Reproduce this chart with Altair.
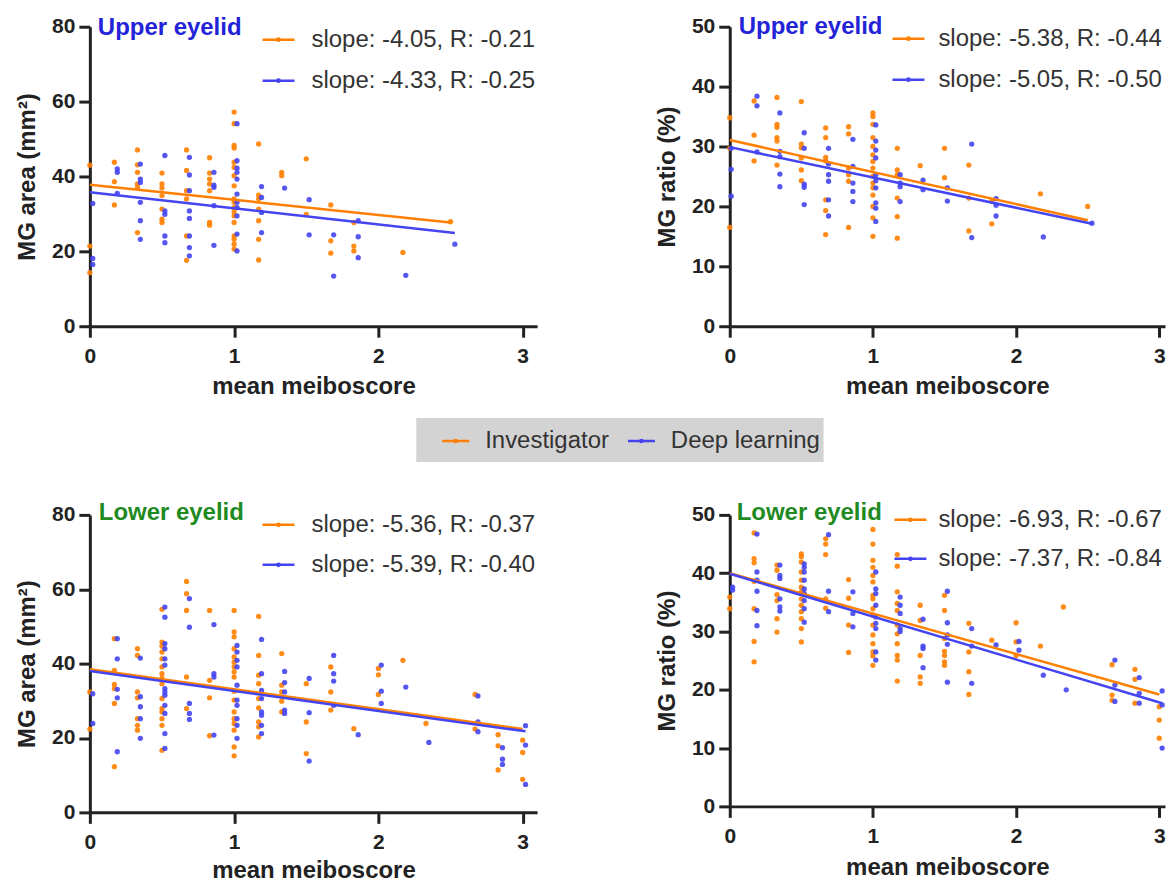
import altair as alt
import pandas as pd

ORANGE = "#FF8000"
BLUE = "#4444F0"
SERIES = ["Investigator", "Deep learning"]
FONT = "Liberation Sans"

# ---------------- data ----------------
# (mean meiboscore, [values]) groups
UP_AREA_INV = [
    (0.00, [43.0, 21.4, 14.3]),
    (0.17, [43.8, 38.6, 32.4]),
    (0.33, [47.1, 43.1, 41.1, 38.0, 37.1, 25.0]),
    (0.50, [40.9, 38.0, 36.9, 34.9, 31.3, 28.6, 27.7]),
    (0.67, [47.1, 41.6, 36.2, 34.0, 24.1, 17.6]),
    (0.83, [45.0, 40.9, 39.3, 38.0, 36.2, 27.7, 27.0]),
    (1.00, [57.2, 54.1, 48.3, 47.6, 43.8, 42.4, 40.2, 37.5, 34.0, 33.1, 31.7,
            30.6, 29.5, 27.7, 24.1, 23.2, 21.9, 20.6]),
    (1.17, [48.7, 35.0, 34.0, 31.3, 28.2, 23.2, 17.7]),
    (1.33, [41.1, 40.2]),
    (1.50, [44.7, 29.9]),
    (1.67, [32.4, 22.8, 19.5]),
    (1.83, [27.7, 21.4, 20.1]),
    (2.17, [19.7]),
    (2.50, [27.9]),
]
UP_AREA_DL = [
    (0.02, [32.8, 18.1, 16.5]),
    (0.19, [42.0, 41.1, 35.5]),
    (0.35, [43.3, 39.3, 38.4, 33.1, 28.2, 23.2]),
    (0.52, [45.6, 30.8, 29.9, 24.1, 22.3]),
    (0.69, [45.1, 40.4, 36.2, 30.8, 28.8, 24.1, 21.0, 18.8]),
    (0.86, [41.1, 37.7, 37.1, 32.2, 21.6]),
    (1.02, [54.1, 44.2, 42.2, 41.1, 39.3, 35.3, 33.1, 31.7, 29.5, 24.6, 20.1]),
    (1.19, [37.3, 34.4, 30.4, 25.0]),
    (1.35, [36.9]),
    (1.52, [33.8, 24.4]),
    (1.69, [24.4, 13.4]),
    (1.86, [28.2, 23.9, 18.3]),
    (2.19, [13.6]),
    (2.53, [21.9]),
]
UP_RATIO_INV = [
    (0.00, [34.8, 29.7, 16.5]),
    (0.17, [37.6, 31.9, 27.6]),
    (0.33, [38.2, 33.7, 33.2, 31.5, 30.9, 26.9]),
    (0.50, [37.5, 30.4, 29.8, 28.1, 26.1, 24.3]),
    (0.67, [33.1, 31.5, 28.2, 27.6, 21.1, 19.3, 15.3]),
    (0.83, [33.3, 32.1, 26.4, 25.3, 24.2, 16.5]),
    (1.00, [35.6, 35.0, 33.7, 31.5, 30.0, 28.6, 27.5, 26.4, 25.0, 23.9, 23.1,
            21.9, 20.0, 18.1, 15.0]),
    (1.17, [29.7, 26.1, 25.3, 21.4, 18.3, 14.7]),
    (1.33, [26.8]),
    (1.50, [29.7, 24.8]),
    (1.67, [26.9, 21.4, 15.9]),
    (1.83, [20.9, 17.1]),
    (2.17, [22.1]),
    (2.50, [20.0]),
]
UP_RATIO_DL = [
    (0.01, [29.7, 26.2, 21.7]),
    (0.19, [38.4, 36.8, 29.1]),
    (0.35, [35.6, 29.2, 28.3, 25.4, 23.3]),
    (0.52, [32.3, 29.7, 23.7, 23.2, 20.3]),
    (0.69, [29.7, 27.1, 25.3, 24.2, 21.1, 18.4]),
    (0.86, [31.2, 26.7, 23.9, 22.5, 20.8]),
    (1.02, [33.6, 30.9, 29.4, 28.1, 25.3, 24.3, 23.1, 20.6, 19.7, 17.5]),
    (1.19, [25.3, 23.9, 23.3, 20.8]),
    (1.35, [24.4, 22.8]),
    (1.52, [23.1, 20.9]),
    (1.69, [30.4, 14.8]),
    (1.86, [21.3, 20.2, 18.4]),
    (2.19, [14.9]),
    (2.53, [17.2]),
]
LO_AREA_INV = [
    (0.00, [32.4, 22.4]),
    (0.17, [46.7, 38.2, 34.4, 33.3, 29.3, 12.3]),
    (0.33, [44.0, 42.2, 32.4, 30.8, 25.2, 23.4, 22.1]),
    (0.50, [54.6, 45.8, 44.7, 43.1, 41.3, 39.1, 37.3, 36.0, 34.6, 30.6, 27.9,
            27.0, 25.2, 23.4, 16.7]),
    (0.67, [62.1, 58.8, 54.3, 36.4, 27.9]),
    (0.83, [54.3, 35.5, 30.8, 20.6]),
    (1.00, [54.3, 48.5, 47.2, 44.0, 41.8, 40.4, 39.1, 37.8, 36.4, 32.6, 30.2,
            27.0, 25.2, 23.9, 22.1, 17.6, 15.2]),
    (1.17, [52.7, 42.2, 36.9, 34.6, 30.6, 28.1, 24.3, 23.0, 20.3]),
    (1.33, [42.7, 34.2, 32.4, 29.9, 27.0]),
    (1.50, [34.6, 24.3, 15.8]),
    (1.67, [39.1, 32.4, 27.5]),
    (1.83, [22.5]),
    (2.00, [38.7, 37.0, 31.7]),
    (2.17, [40.9]),
    (2.33, [23.9]),
    (2.67, [31.7, 22.4]),
    (2.83, [20.9, 17.9, 11.4]),
    (3.00, [19.4, 16.1, 8.9]),
]
LO_AREA_DL = [
    (0.02, [31.9, 23.9]),
    (0.19, [46.7, 41.3, 33.1, 30.8, 16.3]),
    (0.35, [41.5, 31.1, 28.4, 25.2, 19.9]),
    (0.52, [55.2, 52.5, 45.4, 44.0, 41.3, 39.6, 33.3, 32.4, 31.5, 28.8, 26.6,
            21.2, 17.2]),
    (0.69, [57.5, 49.8, 29.3, 26.6, 25.0]),
    (0.86, [50.5, 37.3, 36.4, 20.8]),
    (1.02, [44.9, 43.1, 40.9, 39.1, 34.2, 30.2, 28.8, 25.2, 23.4, 19.9]),
    (1.19, [46.5, 37.3, 32.8, 30.6, 27.0, 26.1, 23.4, 21.2]),
    (1.35, [37.9, 34.9, 32.4, 27.5, 26.6]),
    (1.52, [36.0, 26.8, 13.8]),
    (1.69, [42.2, 37.3, 35.3, 28.8]),
    (1.86, [20.9]),
    (2.02, [39.6, 32.6, 29.3]),
    (2.19, [33.7]),
    (2.35, [18.8]),
    (2.69, [31.3, 24.3, 21.7]),
    (2.86, [17.4, 14.3, 12.9]),
    (3.02, [23.3, 18.1, 7.5]),
]
LO_RATIO_INV = [
    (0.00, [35.9, 33.9]),
    (0.17, [46.9, 42.5, 41.8, 38.6, 33.9, 28.3, 24.8]),
    (0.33, [41.4, 40.5, 36.3, 35.3, 32.2, 29.9]),
    (0.50, [43.3, 42.8, 41.9, 40.2, 38.8, 37.6, 36.8, 35.6, 34.5, 33.4, 32.2,
            30.5, 28.2]),
    (0.67, [45.9, 45.0, 43.2, 35.6, 34.0]),
    (0.83, [38.9, 35.7, 31.1, 26.4]),
    (1.00, [47.5, 45.0, 42.2, 41.0, 39.6, 38.5, 36.2, 35.6, 33.9, 32.8, 31.1,
            29.4, 27.9, 26.5, 25.8, 24.2]),
    (1.17, [43.2, 41.2, 36.8, 34.8, 33.6, 31.1, 29.6, 27.9, 25.9, 25.1, 21.5]),
    (1.33, [34.5, 31.9, 25.9, 22.2, 21.1]),
    (1.50, [36.2, 33.6, 28.8, 26.6, 25.9, 24.8, 24.2]),
    (1.67, [31.4, 26.5, 23.1, 19.2]),
    (1.83, [28.5]),
    (2.00, [31.5, 28.2, 25.9]),
    (2.17, [27.5]),
    (2.33, [34.2]),
    (2.67, [24.3, 19.1, 18.2]),
    (2.83, [23.5, 21.8, 17.7]),
    (3.00, [17.1, 14.8, 11.7]),
]
LO_RATIO_DL = [
    (0.02, [37.6, 37.1]),
    (0.19, [46.7, 40.2, 38.8, 36.9, 33.6, 31.0]),
    (0.35, [41.4, 39.6, 39.1, 35.6, 34.2, 33.5]),
    (0.52, [41.6, 41.0, 40.2, 38.8, 37.3, 36.5, 35.3, 33.9, 31.6]),
    (0.69, [46.6, 36.9, 33.4]),
    (0.86, [36.8, 33.1, 30.8]),
    (1.02, [40.2, 37.3, 36.5, 34.5, 32.5, 31.4, 30.5, 26.5, 25.1]),
    (1.19, [35.9, 34.5, 33.1, 30.5, 30.0]),
    (1.35, [32.1, 27.5, 27.1, 23.8]),
    (1.52, [36.9, 31.5, 29.4, 27.8, 21.3]),
    (1.69, [30.5, 27.5, 21.1]),
    (1.86, [27.7]),
    (2.02, [28.3, 26.8]),
    (2.19, [22.5]),
    (2.35, [20.0]),
    (2.69, [25.1, 20.8, 18.0]),
    (2.86, [22.1, 19.4, 17.7]),
    (3.02, [19.8, 17.4, 10.0]),
]

# regression line end points: ([x0, x1], [y0, y1])
UP_AREA_FIT_INV = ([0.0, 2.50], [37.8, 27.7])
UP_AREA_FIT_DL = ([0.0, 2.53], [35.8, 24.9])
UP_RATIO_FIT_INV = ([0.0, 2.50], [31.1, 17.7])
UP_RATIO_FIT_DL = ([0.0, 2.53], [29.9, 17.1])
LO_AREA_FIT_INV = ([0.0, 3.00], [38.5, 22.4])
LO_AREA_FIT_DL = ([0.0, 3.02], [38.0, 21.8])
LO_RATIO_FIT_INV = ([0.0, 3.00], [40.0, 19.2])
LO_RATIO_FIT_DL = ([0.0, 3.02], [39.9, 17.7])

LEGEND_TEXT = {
    "up_area": ["slope: -4.05, R: -0.21", "slope: -4.33, R: -0.25"],
    "up_ratio": ["slope: -5.38, R: -0.44", "slope: -5.05, R: -0.50"],
    "lo_area": ["slope: -5.36, R: -0.37", "slope: -5.39, R: -0.40"],
    "lo_ratio": ["slope: -6.93, R: -0.67", "slope: -7.37, R: -0.84"],
}

X_TICKS = [0, 1, 2, 3]


def points_frame(inv, dl):
    rows = []
    for series, groups in ((SERIES[0], inv), (SERIES[1], dl)):
        for x, ys in groups:
            for y in ys:
                rows.append({"x": x, "y": y, "series": series})
    return pd.DataFrame(rows)


def fit_frame(fi, fd):
    rows = []
    for series, (xs, ys) in ((SERIES[0], fi), (SERIES[1], fd)):
        for x, y in zip(xs, ys):
            rows.append({"x": x, "y": y, "series": series})
    return pd.DataFrame(rows)


ONE = pd.DataFrame({"k": [0]})


def symbol(x0, x1, y, color):
    rule = alt.Chart(ONE).mark_rule(color=color, strokeWidth=2.5).encode(
        x=alt.value(x0), x2=alt.value(x1), y=alt.value(y))
    dot = alt.Chart(ONE).mark_circle(color=color, size=22, opacity=1).encode(
        x=alt.value((x0 + x1) / 2), y=alt.value(y))
    return rule + dot


def label(x, y, text, size=24, color="#333333", weight="normal"):
    return alt.Chart(ONE).mark_text(
        align="left", baseline="middle", font=FONT, fontSize=size,
        fontWeight=weight, color=color).encode(
        x=alt.value(x), y=alt.value(y), text=alt.value(text))


def panel(inv, dl, fi, fd, ymax, ystep, ytitle, xmax, width, height, eyelid,
          eyelid_color, texts, title_pos, sym_x, text_x, rows_y, xtitle_pad):
    color = alt.Color("series:N", scale=alt.Scale(domain=SERIES, range=[ORANGE, BLUE]),
                      legend=None)
    xscale = alt.Scale(domain=[0, xmax], nice=False)
    yscale = alt.Scale(domain=[0, ymax], nice=False)
    xaxis = alt.Axis(values=X_TICKS, title="mean meiboscore", titlePadding=xtitle_pad)
    yaxis = alt.Axis(values=list(range(0, ymax + 1, ystep)), title=ytitle)
    pts = alt.Chart(points_frame(inv, dl)).mark_circle(size=28, opacity=0.9).encode(
        x=alt.X("x:Q", scale=xscale, axis=xaxis),
        y=alt.Y("y:Q", scale=yscale, axis=yaxis),
        color=color,
    )
    fit = alt.Chart(fit_frame(fi, fd)).mark_line(strokeWidth=2.5).encode(
        x=alt.X("x:Q", scale=xscale, axis=xaxis),
        y=alt.Y("y:Q", scale=yscale, axis=yaxis),
        color=color,
        detail="series:N",
    )
    layers = [pts, fit,
              label(title_pos[0], title_pos[1], eyelid, size=24, color=eyelid_color,
                    weight="bold"),
              symbol(sym_x[0], sym_x[1], rows_y[0], ORANGE),
              symbol(sym_x[0], sym_x[1], rows_y[1], BLUE),
              label(text_x, rows_y[0], texts[0]),
              label(text_x, rows_y[1], texts[1])]
    return alt.layer(*layers).properties(width=width, height=height)


UPPER_BLUE = "#2323D8"
LOWER_GREEN = "#1F8A1F"

p1 = panel(UP_AREA_INV, UP_AREA_DL, UP_AREA_FIT_INV, UP_AREA_FIT_DL, 80, 20,
           "MG area (mm²)", 3.1, 448, 300, "Upper eyelid", UPPER_BLUE,
           LEGEND_TEXT["up_area"], (8, 1), (173, 205), 222, (13, 54), 8)
p2 = panel(UP_RATIO_INV, UP_RATIO_DL, UP_RATIO_FIT_INV, UP_RATIO_FIT_DL, 50, 10,
           "MG ratio (%)", 3.04, 436, 300, "Upper eyelid", UPPER_BLUE,
           LEGEND_TEXT["up_ratio"], (9, 0), (163, 195), 209, (12, 53), 8)
p3 = panel(LO_AREA_INV, LO_AREA_DL, LO_AREA_FIT_INV, LO_AREA_FIT_DL, 80, 20,
           "MG area (mm²)", 3.1, 448, 298, "Lower eyelid", LOWER_GREEN,
           LEGEND_TEXT["lo_area"], (9, -2), (173, 205), 222, (10, 50), 6)
p4 = panel(LO_RATIO_INV, LO_RATIO_DL, LO_RATIO_FIT_INV, LO_RATIO_FIT_DL, 50, 10,
           "MG ratio (%)", 3.04, 436, 292, "Lower eyelid", LOWER_GREEN,
           LEGEND_TEXT["lo_ratio"], (7, -2), (165, 197), 209, (5, 44), 9)

# central legend cell
box = alt.Chart(ONE).mark_rect(color="#D3D3D3").encode(
    x=alt.value(327), x2=alt.value(735), y=alt.value(72), y2=alt.value(116))
legend_cell = alt.layer(
    box,
    symbol(353, 380, 95, ORANGE),
    label(396, 95, SERIES[0], size=24),
    symbol(539, 566, 95, BLUE),
    label(582, 95, SERIES[1], size=24),
).properties(width=448, height=149)

empty_cell = alt.Chart(ONE).mark_point(opacity=0).encode(
    x=alt.value(0), y=alt.value(0)).properties(width=436, height=149)

chart = alt.concat(
    p1, p2, legend_cell, empty_cell, p3, p4,
    columns=2, spacing={"row": 20, "column": 193}, bounds="flush",
).properties(
    padding={"left": 7, "top": 6, "right": 0, "bottom": 0}
).configure(
    font=FONT,
).configure_view(
    stroke=None,
).configure_axis(
    labelFont=FONT, labelFontSize=21, labelFontWeight="bold", labelColor="#222222",
    titleFont=FONT, titleFontSize=24, titleFontWeight="bold", titleColor="#222222",
    domainColor="#222222", domainWidth=3, tickColor="#222222", tickWidth=3,
    tickSize=11, grid=False, labelFlush=False,
).configure_axisX(
    labelPadding=8,
).configure_axisY(
    labelPadding=4, titlePadding=12,
)

chart.save("out.html", embed_options={"renderer": "svg", "actions": False})
